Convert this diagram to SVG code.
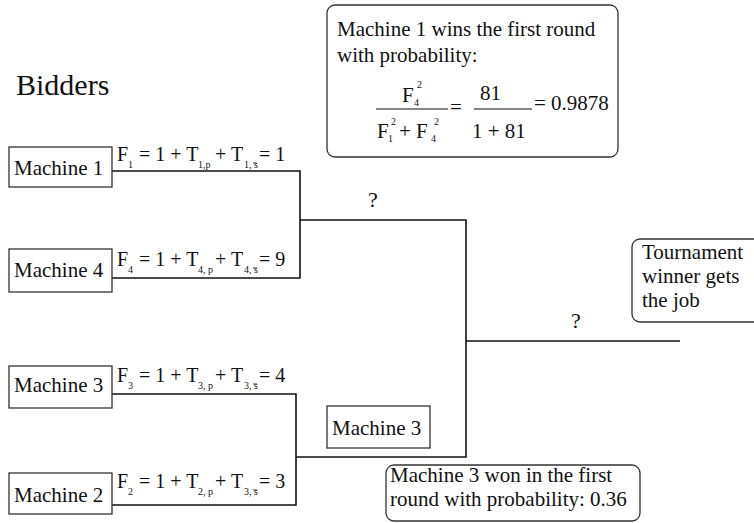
<svg xmlns="http://www.w3.org/2000/svg" width="754" height="523" viewBox="0 0 754 523">
<style>
text{font-family:"Liberation Serif",Tinos,"Times New Roman",Times,"Nimbus Roman","Nimbus Roman No9 L",FreeSerif,"Noto Serif","DejaVu Serif",Georgia,serif;fill:#111;font-size:21px}
.f{font-size:20px}
.s{font-size:10px}
.box{fill:#fff;stroke:#333;stroke-width:1.3}
.rbox{fill:#fff;stroke:#333;stroke-width:1.3}
.wire{fill:none;stroke:#111;stroke-width:1.6}
.ol{stroke:#111;stroke-width:0.8}
</style>
<rect width="754" height="523" fill="#fff"/>
<text x="16" y="95" style="font-size:30px">Bidders</text>
<g id="connectors">
<polyline class="wire" points="112,171 300,171 300,278 112,278"/>
<polyline class="wire" points="300,220 466,220 466,457 296,457"/>
<polyline class="wire" points="112,394 296,394 296,505 112,505"/>
<line class="wire" x1="466" y1="341" x2="680" y2="341"/>
</g>
<g id="machine1">
<rect class="box" x="9" y="147" width="103" height="40"/>
<text x="14" y="175">Machine 1</text>
</g>
<g id="machine4">
<rect class="box" x="9" y="249" width="103" height="43"/>
<text x="14" y="277">Machine 4</text>
</g>
<g id="machine3">
<rect class="box" x="9" y="366" width="103" height="42"/>
<text x="14" y="392">Machine 3</text>
</g>
<g id="machine2">
<rect class="box" x="9" y="473" width="103" height="41"/>
<text x="14" y="502">Machine 2</text>
</g>
<g id="formula1">
<text class="f"><tspan x="117" y="161">F</tspan><tspan class="s" x="128" y="168">1</tspan><tspan x="139" y="161">= 1 + T</tspan><tspan class="s" x="198" y="168">1,p</tspan><tspan x="215" y="161">+ T</tspan><tspan class="s" x="244" y="168">1, s</tspan><tspan x="259" y="161">= 1</tspan></text>
<line class="ol" x1="253" y1="163" x2="257" y2="163"/>
</g>
<g id="formula4">
<text class="f"><tspan x="117" y="266">F</tspan><tspan class="s" x="128" y="273">4</tspan><tspan x="139" y="266">= 1 + T</tspan><tspan class="s" x="198" y="273">4, p</tspan><tspan x="215" y="266">+ T</tspan><tspan class="s" x="244" y="273">4, s</tspan><tspan x="259" y="266">= 9</tspan></text>
<line class="ol" x1="253" y1="268" x2="257" y2="268"/>
</g>
<g id="formula3">
<text class="f"><tspan x="117" y="382">F</tspan><tspan class="s" x="128" y="389">3</tspan><tspan x="139" y="382">= 1 + T</tspan><tspan class="s" x="198" y="389">3, p</tspan><tspan x="215" y="382">+ T</tspan><tspan class="s" x="244" y="389">3, s</tspan><tspan x="259" y="382">= 4</tspan></text>
<line class="ol" x1="253" y1="384" x2="257" y2="384"/>
</g>
<g id="formula2">
<text class="f"><tspan x="117" y="488">F</tspan><tspan class="s" x="128" y="495">2</tspan><tspan x="139" y="488">= 1 + T</tspan><tspan class="s" x="198" y="495">2, p</tspan><tspan x="215" y="488">+ T</tspan><tspan class="s" x="244" y="495">3, s</tspan><tspan x="259" y="488">= 3</tspan></text>
<line class="ol" x1="253" y1="490" x2="257" y2="490"/>
</g>
<g id="q1"><text x="368" y="207" style="font-size:22px">?</text></g>
<g id="q2"><text x="571" y="328" style="font-size:22px">?</text></g>
<g id="winner3">
<rect class="box" x="327" y="406" width="103" height="42"/>
<text x="332" y="435">Machine 3</text>
</g>
<g id="note1">
<rect class="rbox" x="327" y="5" width="291" height="152" rx="8"/>
<text x="337" y="36">Machine 1 wins the first round</text>
<text x="337" y="62">with probability:</text>
<text><tspan x="402" y="102">F</tspan><tspan class="s" x="414" y="106">4</tspan><tspan class="s" x="417" y="88">2</tspan></text>
<line x1="376" y1="109" x2="448" y2="109" stroke="#111" stroke-width="1.2"/>
<text><tspan x="377" y="138">F</tspan><tspan class="s" x="388" y="142">1</tspan><tspan class="s" x="391" y="125">2</tspan><tspan x="399" y="138">+ F</tspan><tspan class="s" x="431" y="142">4</tspan><tspan class="s" x="434" y="125">2</tspan></text>
<text x="450" y="114">=</text>
<text x="480" y="100">81</text>
<line x1="474" y1="109" x2="532" y2="109" stroke="#111" stroke-width="1.2"/>
<text x="472" y="138">1 + 81</text>
<text x="534" y="110">= 0.9878</text>
</g>
<g id="note3">
<rect class="rbox" x="386" y="465" width="254" height="56" rx="8"/>
<text x="390" y="482">Machine 3 won in the first</text>
<text x="390" y="506">round with probability: 0.36</text>
</g>
<g id="tournament">
<rect class="rbox" x="632" y="239" width="140" height="83" rx="8"/>
<text x="642" y="259">Tournament</text>
<text x="642" y="283">winner gets</text>
<text x="642" y="307">the job</text>
</g>
</svg>
